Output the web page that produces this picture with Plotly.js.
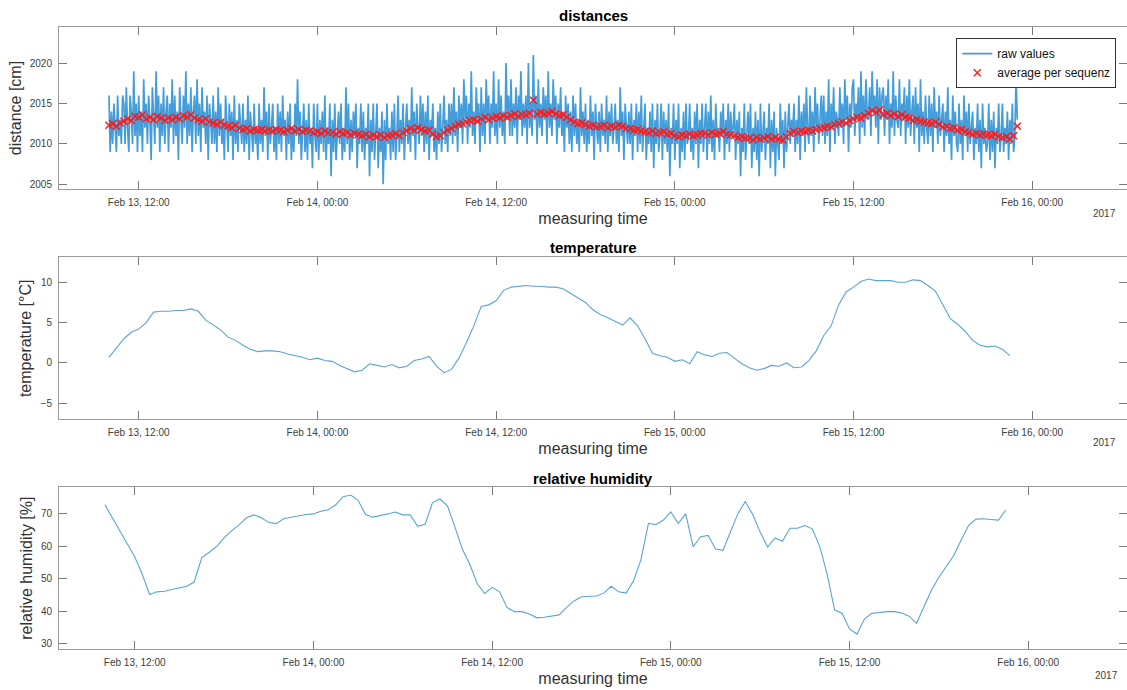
<!DOCTYPE html>
<html>
<head>
<meta charset="utf-8">
<script src="https://cdn.plot.ly/plotly-3.0.1.min.js"></script>
<style>html,body{margin:0;padding:0;background:#fff;}#chart{width:1127px;height:690px;}</style>
</head>
<body>
<div id="chart"></div>
<script>
// ---------------- data ----------------
const seriesStart = '2017-02-13T10:00:00Z';

// raw distance readings [cm], one every 5 minutes
const rawStepMinutes = 5;
const distanceRaw = [
2016,2009,2014,2010,2015,2012,2009,2016,2011,2013,2010,2016,
2015,2010,2017,2012,2009,2016,2014,2010,2019,2011,2015,2009,
2016,2011,2014,2009,2018,2012,2015,2010,2016,2013,2008,2017,
2014,2010,2019,2012,2016,2009,2015,2011,2017,2010,2014,2016,
2009,2015,2012,2018,2010,2016,2011,2014,2008,2017,2013,2010,
2016,2012,2019,2010,2015,2011,2017,2009,2014,2016,2010,2018,
2011,2015,2009,2017,2012,2014,2010,2016,2008,2015,2013,2010,
2016,2010,2014,2009,2017,2011,2015,2010,2013,2008,2016,2012,
2009,2015,2011,2014,2008,2016,2010,2013,2009,2015,2012,2010,
2015,2009,2013,2010,2016,2008,2014,2011,2009,2015,2010,2012,
2008,2015,2010,2013,2009,2017,2011,2014,2008,2015,2010,2012,
2015,2009,2012,2008,2015,2010,2014,2009,2016,2011,2013,2008,
2014,2010,2015,2008,2012,2009,2015,2011,2018,2010,2014,2008,
2011,2015,2009,2013,2008,2015,2010,2012,2007,2015,2011,2009,
2015,2008,2013,2010,2014,2009,2016,2008,2012,2010,2015,2006,
2013,2009,2015,2008,2011,2014,2010,2015,2008,2012,2009,2017,
2010,2015,2008,2013,2009,2014,2011,2015,2007,2012,2010,2015,
2009,2014,2008,2012,2010,2015,2006,2013,2009,2015,2008,2011,
2015,2007,2012,2009,2014,2005,2013,2008,2015,2010,2012,2008,
2014,2009,2015,2008,2011,2016,2009,2013,2010,2015,2008,2012,
2015,2010,2013,2009,2017,2011,2014,2008,2015,2012,2010,2016,
2011,2015,2009,2014,2010,2016,2008,2013,2011,2015,2009,2012,
2008,2014,2010,2015,2009,2012,2016,2010,2013,2009,2015,2011,
2015,2010,2017,2011,2014,2009,2016,2012,2015,2010,2018,2013,
2016,2010,2015,2012,2019,2011,2014,2010,2017,2013,2015,2009,
2017,2011,2015,2010,2018,2013,2016,2010,2015,2012,2019,2011,
2015,2010,2018,2012,2016,2011,2014,2010,2020,2013,2016,2011,
2018,2011,2015,2012,2017,2010,2016,2013,2019,2011,2015,2012,
2016,2010,2020,2012,2015,2011,2021,2013,2016,2010,2018,2012,
2015,2011,2017,2013,2016,2010,2019,2012,2015,2011,2018,2013,
2016,2010,2015,2012,2017,2011,2014,2009,2016,2012,2015,2010,
2014,2009,2016,2011,2015,2010,2013,2009,2017,2011,2014,2010,
2015,2009,2013,2010,2016,2011,2014,2008,2015,2012,2010,2014,
2009,2015,2011,2013,2010,2016,2009,2014,2011,2015,2010,2012,
2015,2010,2013,2009,2017,2011,2014,2008,2015,2012,2010,2014,
2010,2015,2008,2013,2011,2015,2009,2014,2010,2016,2009,2012,
2015,2008,2012,2010,2014,2009,2015,2007,2013,2010,2015,2009,
2011,2015,2008,2014,2010,2013,2009,2015,2006,2012,2010,2015,
2008,2013,2010,2015,2007,2012,2009,2014,2008,2015,2010,2011,
2015,2009,2012,2008,2014,2010,2015,2007,2013,2010,2015,2009,
2012,2015,2008,2014,2010,2016,2009,2013,2008,2015,2011,2012,
2009,2014,2011,2015,2008,2013,2010,2015,2009,2014,2011,2012,
2015,2008,2013,2010,2014,2006,2012,2009,2015,2008,2011,2014,
2010,2015,2007,2012,2009,2014,2008,2013,2006,2015,2009,2011,
2014,2008,2012,2010,2015,2007,2013,2009,2014,2006,2012,2010,
2008,2015,2010,2013,2007,2014,2009,2012,2015,2010,2013,2011,
2015,2009,2013,2010,2016,2008,2014,2011,2015,2009,2017,2012,
2010,2016,2011,2014,2009,2017,2012,2015,2010,2013,2016,2011,
2016,2010,2014,2011,2018,2009,2015,2012,2017,2010,2014,2013,
2011,2017,2012,2015,2010,2018,2013,2016,2009,2015,2012,2017,
2018,2011,2015,2013,2017,2010,2019,2012,2016,2011,2018,2014,
2013,2017,2011,2019,2014,2016,2012,2018,2010,2017,2013,2016,
2017,2011,2016,2013,2018,2010,2015,2012,2019,2011,2016,2013,
2012,2018,2011,2015,2013,2017,2010,2016,2012,2018,2011,2014,
2016,2010,2017,2012,2015,2009,2018,2011,2014,2010,2016,2012,
2010,2016,2011,2015,2009,2017,2012,2014,2010,2016,2011,2013,
2015,2009,2014,2011,2017,2010,2013,2008,2016,2011,2014,2010,
2009,2015,2010,2013,2008,2016,2011,2014,2009,2015,2010,2012,
2014,2008,2012,2010,2015,2009,2013,2007,2015,2010,2012,2009,
2010,2015,2008,2013,2009,2014,2007,2012,2010,2015,2009,2011,
2015,2009,2012,2010,2014,2008,2013,2010,2015,2009,2011,2018,
2013
];

// average per measuring sequence [cm], one every 15 minutes
const avgStepMinutes = 15;
const distanceAvg = [
2012.3,2012.5,2012.2,2012.6, 2012.8,2013.1,2012.9,2013.4, 2013.3,2013.6,2013.1,2013.3,
2013.0,2013.4,2013.2,2012.9, 2013.2,2013.0,2013.3,2013.1, 2013.5,2013.3,2013.6,2013.2,
2013.0,2012.8,2013.1,2012.7, 2012.6,2012.4,2012.7,2012.3, 2012.2,2012.0,2012.3,2011.9,
2011.8,2011.9,2011.6,2011.8, 2011.7,2011.8,2011.6,2011.7, 2011.6,2011.8,2011.7,2011.5,
2011.7,2011.9,2011.6,2011.8, 2011.5,2011.7,2011.6,2011.4, 2011.5,2011.3,2011.6,2011.4,
2011.4,2011.2,2011.5,2011.3, 2011.4,2011.1,2011.3,2011.2, 2011.0,2011.2,2010.9,2011.1,
2010.9,2011.1,2010.8,2011.0, 2011.1,2011.3,2011.0,2011.4, 2011.6,2011.9,2011.7,2012.0,
2011.8,2011.6,2011.7,2011.2, 2010.9,2011.0,2011.4,2011.7, 2011.9,2012.2,2012.4,2012.5,
2012.7,2012.9,2013.0,2012.8, 2013.1,2013.3,2013.0,2013.2, 2013.4,2013.2,2013.5,2013.3,
2013.5,2013.7,2013.4,2013.6, 2013.6,2013.8,2015.4,2013.7, 2013.9,2013.7,2013.8,2014.0,
2013.7,2013.5,2013.6,2013.3, 2013.0,2012.7,2012.5,2012.6, 2012.4,2012.2,2012.3,2012.1,
2012.2,2012.3,2012.0,2012.2, 2012.1,2012.3,2012.2,2011.9, 2011.9,2011.7,2011.8,2011.6,
2011.5,2011.4,2011.6,2011.3, 2011.4,2011.5,2011.2,2011.3, 2011.0,2010.9,2011.1,2011.0,
2011.2,2011.0,2011.1,2011.3, 2011.3,2011.1,2011.4,2011.2, 2011.3,2011.5,2011.2,2011.1,
2011.0,2010.8,2010.9,2010.7, 2010.7,2010.5,2010.8,2010.6, 2010.7,2010.9,2010.6,2010.8,
2010.6,2010.5,2010.9,2011.3, 2011.5,2011.4,2011.6,2011.5, 2011.7,2011.6,2011.8,2011.9,
2012.0,2012.2,2012.1,2012.4, 2012.5,2012.7,2012.6,2012.9, 2013.1,2013.3,2013.2,2013.5,
2013.8,2014.1,2013.9,2014.2, 2013.6,2013.8,2013.5,2013.7, 2013.4,2013.6,2013.3,2013.2,
2012.9,2013.0,2012.8,2012.7, 2012.6,2012.5,2012.7,2012.4, 2012.1,2012.2,2011.9,2012.0,
2011.7,2011.8,2011.5,2011.4, 2011.2,2011.3,2011.1,2011.2, 2011.1,2011.0,2011.2,2010.9,
2010.8,2010.9,2010.6,2011.0, 2012.2
];

// temperature [°C] and relative humidity [%], one every 30 minutes
const climateStepMinutes = 30;
const temperature = [
0.7,1.9,3.0,3.8,4.2,5.0,6.3,6.4,6.4,6.5,6.5,6.7,
6.4,5.3,4.7,4.1,3.2,2.8,2.2,1.7,1.4,1.5,1.5,1.4,
1.1,0.9,0.7,0.4,0.6,0.3,0.2,-0.3,-0.7,-1.1,-0.9,-0.1,
-0.3,-0.5,-0.2,-0.6,-0.4,0.3,0.5,0.8,-0.4,-1.2,-0.8,0.6,
2.5,4.6,7.0,7.2,7.7,9.0,9.4,9.5,9.6,9.5,9.5,9.4,
9.4,9.2,8.6,8.0,7.5,6.6,6.0,5.6,5.1,4.7,5.6,4.6,
3.0,1.2,0.9,0.7,0.2,0.4,-0.1,1.4,1.0,0.8,1.2,1.3,
0.6,-0.1,-0.6,-0.9,-0.7,-0.3,-0.4,0.0,-0.6,-0.5,0.3,1.5,
3.4,4.6,7.2,8.8,9.4,10.1,10.4,10.2,10.2,10.2,10.0,10.0,
10.3,10.2,9.6,8.9,7.2,5.5,4.8,3.9,2.8,2.2,2.0,2.1,
1.7,0.9
];
const humidity = [
72.8,68.8,64.9,60.8,56.8,51.5,45.2,46.0,46.2,46.7,47.2,47.7,
49.1,56.5,58.2,59.9,62.6,64.8,66.6,68.8,69.7,68.8,67.4,67.0,
68.5,69.0,69.3,69.8,70.0,70.8,71.3,72.8,75.3,75.8,74.2,69.8,
69.0,69.4,70.0,70.6,69.7,69.7,66.2,66.8,73.5,74.6,72.5,66.0,
59.2,54.5,48.5,45.5,47.4,46.0,41.2,39.9,39.9,39.2,38.0,38.2,
38.6,38.9,41.2,43.2,44.5,44.5,44.7,45.6,47.7,46.0,45.6,49.4,
56.0,67.1,66.7,68.1,70.6,67.0,70.0,59.9,63.0,63.4,59.2,58.8,
64.2,70.0,73.8,69.8,64.4,59.8,62.6,61.6,65.6,65.6,66.4,65.4,
60.0,51.4,40.4,39.4,34.6,33.0,37.6,39.4,39.6,39.9,39.9,39.5,
38.5,36.3,41.4,46.5,50.5,53.7,57.2,62.0,66.5,68.4,68.5,68.3,
68.1,71.2
];

// ---------------- helpers ----------------
function sampleTimes(startIso, stepMinutes, n) {
  const t0 = Date.parse(startIso);
  const out = [];
  for (let i = 0; i < n; i++) {
    out.push(new Date(t0 + i * stepMinutes * 60000).toISOString().replace('T', ' ').slice(0, 19));
  }
  return out;
}

const FONT = 'Liberation Sans, Arial, Helvetica, sans-serif';
const lineBlue = '#449ddb';
const axisLine = '#9a9a9a';
const tickText = '#404040';

const traces = [
  {
    x: sampleTimes(seriesStart, rawStepMinutes, distanceRaw.length),
    y: distanceRaw, type: 'scatter', mode: 'lines', name: 'raw values',
    line: { color: lineBlue, width: 1.7 }, xaxis: 'x', yaxis: 'y'
  },
  {
    x: sampleTimes(seriesStart, avgStepMinutes, distanceAvg.length),
    y: distanceAvg, type: 'scatter', mode: 'markers', name: 'average per sequenz',
    marker: { symbol: 'x-thin', size: 7, color: '#ff0000', line: { color: '#ff1a1a', width: 1.4 } },
    xaxis: 'x', yaxis: 'y'
  },
  {
    x: sampleTimes(seriesStart, climateStepMinutes, temperature.length),
    y: temperature, type: 'scatter', mode: 'lines', name: 'temperature', showlegend: false,
    line: { color: '#5aa5d4', width: 1.1 }, xaxis: 'x2', yaxis: 'y2'
  },
  {
    x: sampleTimes(seriesStart, climateStepMinutes, humidity.length),
    y: humidity, type: 'scatter', mode: 'lines', name: 'relative humidity', showlegend: false,
    line: { color: '#5aa5d4', width: 1.1 }, xaxis: 'x3', yaxis: 'y3'
  }
];

function xAxis(range, anchor) {
  return {
    type: 'date', range: range, anchor: anchor,
    tickformat: '%b %d, %H:%M', tick0: '2017-02-13 00:00:00', dtick: 43200000,
    ticks: 'inside', ticklen: 8, tickcolor: '#7a7a7a', tickwidth: 1,
    showline: true, linecolor: axisLine, linewidth: 1, mirror: 'ticks',
    showgrid: false, zeroline: false, automargin: false, ticklabelstandoff: 4,
    tickfont: { size: 10, color: tickText, family: FONT },
    title: { text: 'measuring time', font: { size: 16, color: '#333333', family: FONT }, standoff: 5 }
  };
}
function yAxis(range, dtick, domain, anchor, title) {
  return {
    range: range, dtick: dtick, domain: domain, anchor: anchor,
    ticks: 'inside', ticklen: 8, tickcolor: '#7a7a7a', tickwidth: 1,
    showline: true, linecolor: axisLine, linewidth: 1, mirror: 'ticks',
    showgrid: false, zeroline: false, automargin: false, ticklabelstandoff: 4,
    tickfont: { size: 10, color: tickText, family: FONT },
    title: { text: title, font: { size: 16, color: '#333333', family: FONT }, standoff: 4 }
  };
}

const rangeTop = ['2017-02-13 06:38:45', '2017-02-16 06:22:00'];
const rangeHum = ['2017-02-13 06:55:00', '2017-02-16 06:38:00'];

function note(text, x, y, size, color) {
  return { text: text, xref: 'paper', yref: 'paper', x: x, y: y, xanchor: 'center', yanchor: 'middle',
           showarrow: false, font: { size: size, color: color, family: FONT } };
}

const layout = {
  width: 1127, height: 690,
  margin: { l: 59, r: 0, t: 27, b: 41 },
  paper_bgcolor: '#ffffff', plot_bgcolor: '#ffffff',
  font: { family: FONT, color: '#262626' },
  showlegend: true,
  legend: {
    x: 0.99, xanchor: 'right', y: 0.982, yanchor: 'top',
    bgcolor: '#ffffff', bordercolor: '#333333', borderwidth: 1,
    font: { size: 12, color: '#111111', family: FONT },
    tracegroupgap: 0, itemwidth: 30
  },
  xaxis: xAxis(rangeTop, 'y'),
  yaxis: yAxis([2004.42, 2024.47], 5, [0.7395, 1], 'x', 'distance [cm]'),
  xaxis2: xAxis(rangeTop, 'y2'),
  yaxis2: yAxis([-6.98, 13.09], 5, [0.3693, 0.6297], 'x2', 'temperature [°C]'),
  xaxis3: xAxis(rangeHum, 'y3'),
  yaxis3: yAxis([28.4, 78.2], 10, [0, 0.26], 'x3', 'relative humidity [%]'),
  annotations: [
    note('<b>distances</b>', 0.5, 1.0185, 15, '#000'),
    note('<b>temperature</b>', 0.5, 0.6458, 15, '#000'),
    note('<b>relative humidity</b>', 0.5, 0.2735, 15, '#000'),
    note('2017', 0.979, 0.6994, 10, tickText),
    note('2017', 0.979, 0.3312, 10, tickText),
    note('2017', 0.981, -0.0429, 10, tickText)
  ]
};

Plotly.newPlot('chart', traces, layout, { displayModeBar: false, staticPlot: true });
</script>
</body>
</html>
